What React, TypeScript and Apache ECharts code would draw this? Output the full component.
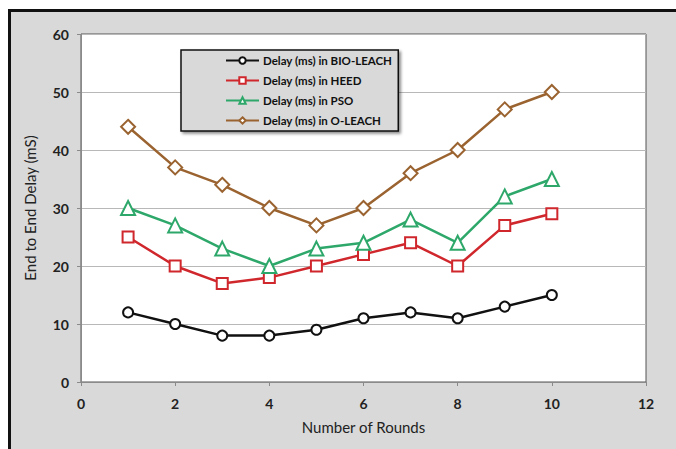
import React, { useEffect, useRef } from "react";
import * as echarts from "echarts";

const rounds = [1, 2, 3, 4, 5, 6, 7, 8, 9, 10];
const bioLeach = [12, 10, 8, 8, 9, 11, 12, 11, 13, 15];
const heed = [25, 20, 17, 18, 20, 22, 24, 20, 27, 29];
const pso = [30, 27, 23, 20, 23, 24, 28, 24, 32, 35];
const oLeach = [44, 37, 34, 30, 27, 30, 36, 40, 47, 50];
const seriesNames = [
  "Delay (ms) in BIO-LEACH",
  "Delay (ms) in HEED",
  "Delay (ms) in PSO",
  "Delay (ms) in O-LEACH",
];

const FONT = "Lato, 'Open Sans', sans-serif";

export default function App() {
  const ref = useRef<HTMLDivElement>(null);
  useEffect(() => {
    if (!ref.current) return;
    const chart = echarts.init(ref.current, undefined, { renderer: "svg" });
    const pair = (vals: number[]) => rounds.map((r, i) => [r, vals[i]]);
    const mk = (name: string, vals: number[], color: string, symbol: string, size: number) => ({
      name,
      type: "line",
      data: pair(vals),
      symbol,
      symbolSize: size,
      showAllSymbol: true,
      lineStyle: { color, width: 2.5 },
      itemStyle: { color: "#ffffff", borderColor: color, borderWidth: 2 },
      z: 3,
    });
    chart.setOption({
      animation: false,
      backgroundColor: "#ffffff",
      textStyle: { fontFamily: FONT },
      graphic: [
        {
          type: "rect",
          shape: { x: 8, y: 9, width: 668, height: 440 },
          style: { fill: "#d9d9d9" },
          z: -10,
          silent: true,
        },
        {
          type: "line",
          shape: { x1: 9.5, y1: 9, x2: 9.5, y2: 449 },
          style: { stroke: "#111111", lineWidth: 3 },
          z: -9,
          silent: true,
        },
        {
          type: "line",
          shape: { x1: 8, y1: 10.5, x2: 676, y2: 10.5 },
          style: { stroke: "#111111", lineWidth: 3 },
          z: -9,
          silent: true,
        },
      ],
      grid: {
        left: 81,
        right: 30,
        top: 34,
        bottom: 67,
        show: true,
        backgroundColor: "#ffffff",
        borderColor: "#555555",
        borderWidth: 1,
      },
      legend: {
        orient: "vertical",
        left: 181,
        top: 50,
        padding: [4, 6, 4, 44],
        itemWidth: 33,
        itemHeight: 8,
        itemGap: 7,
        backgroundColor: "#d9d9d9",
        borderColor: "#111111",
        borderWidth: 1.5,
        shadowColor: "rgba(0,0,0,0.45)",
        shadowBlur: 3,
        shadowOffsetX: 2,
        shadowOffsetY: 2,
        textStyle: {
          fontFamily: FONT,
          fontSize: 11.5,
          lineHeight: 13,
          fontWeight: "bold",
          color: "#111111",
          padding: [0, 0, 0, -1],
        },
        data: seriesNames,
      },
      xAxis: {
        type: "value",
        min: 0,
        max: 12,
        interval: 2,
        name: "Number of Rounds",
        nameLocation: "middle",
        nameGap: 37,
        nameTextStyle: { fontSize: 15, color: "#222222", fontFamily: FONT },
        axisLine: { show: true, lineStyle: { color: "#8a8a8a", width: 1 } },
        axisTick: { show: true, length: 4, lineStyle: { color: "#8a8a8a" } },
        axisLabel: { margin: 14, fontSize: 14, fontWeight: "bold", color: "#222222", fontFamily: FONT },
        splitLine: { show: false },
      },
      yAxis: {
        type: "value",
        min: 0,
        max: 60,
        interval: 10,
        name: "End to End Delay (mS)",
        nameLocation: "middle",
        nameGap: 44,
        nameTextStyle: { fontSize: 15, color: "#222222", fontFamily: FONT },
        axisLine: { show: true, lineStyle: { color: "#8a8a8a", width: 1 } },
        axisTick: { show: true, length: 4, lineStyle: { color: "#8a8a8a" } },
        axisLabel: { margin: 12, fontSize: 14, fontWeight: "bold", color: "#222222", fontFamily: FONT },
        splitLine: { show: true, lineStyle: { color: "#b8b8b8", width: 1 } },
      },
      series: [
        mk(seriesNames[0], bioLeach, "#111111", "circle", 10),
        mk(seriesNames[1], heed, "#d0272d", "rect", 11),
        mk(seriesNames[2], pso, "#2ea86a", "triangle", 14),
        mk(seriesNames[3], oLeach, "#9a6330", "diamond", 14),
      ],
    });
    return () => chart.dispose();
  }, []);
  return (
    <div
      ref={ref}
      style={{ position: "fixed", left: 0, top: 0, width: 676, height: 449 }}
    />
  );
}
